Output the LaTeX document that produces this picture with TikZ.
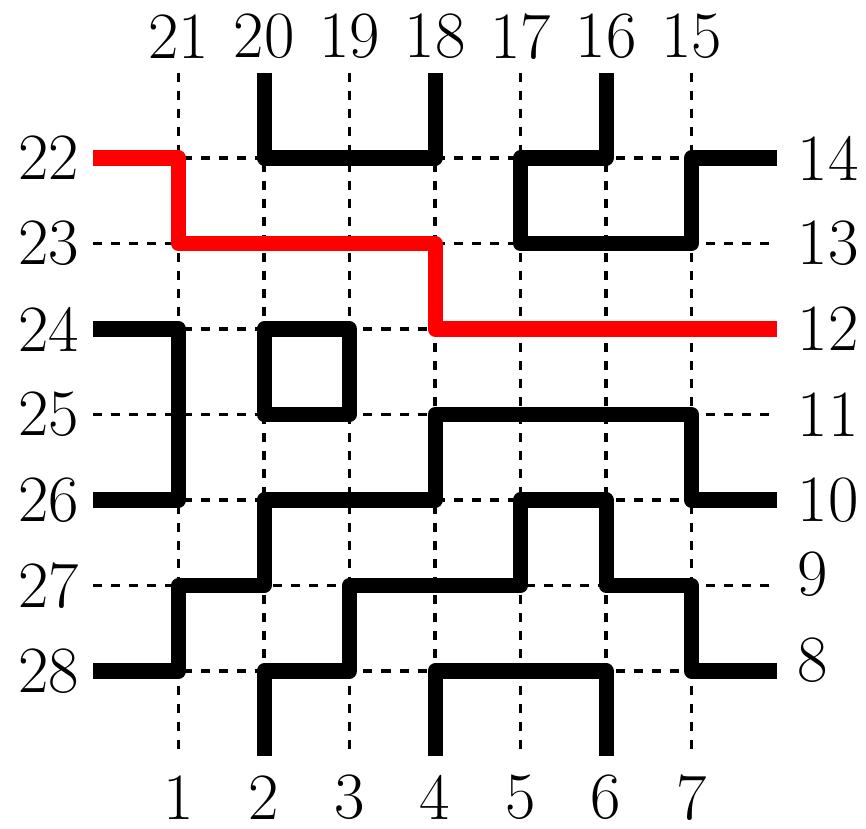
\documentclass[tikz,border=0pt]{standalone}
\usepackage{amsmath}
\usepackage{tikz}
\usepackage{xcolor}

\begin{document}
\begin{tikzpicture}[x=1cm,y=-1cm,line join=round,
  grid/.style={dashed,line width=1.2pt},
  wire/.style={line width=5pt},
  lbl/.style={font=\fontsize{22}{26}\selectfont,inner sep=1pt}]
  \useasboundingbox (-1.088,-0.848) rectangle (9.041,8.848);
  % dashed grid
  \foreach \i in {1,...,7} {
    \draw[grid] (\i,0)--(\i,8);
    \draw[grid] (0,\i)--(8,\i);
  }
  % top and bottom labels
  \foreach \i/\t in {1/21,2/20,3/19,4/18,5/17,6/16,7/15} {
    \node[lbl] (top\t) at (\i,-0.42) {\t};
    \node[lbl] (bot\i) at (\i,8.48) {\i};
  }
  % left and right labels
  \foreach \i/\t in {1/22,2/23,3/24,4/25,5/26,6/27,7/28}
    \node[lbl,anchor=east] (left\t) at (-0.12,\i) {\t};
  \foreach \i/\t in {1/14,2/13,3/12,4/11,5/10}
    \node[lbl,anchor=west] (right\t) at (8.2,\i) {\t};
  \node[lbl,anchor=west] (right9) at (8.2,5.87) {9};
  \node[lbl,anchor=west] (right8) at (8.2,6.87) {8};
  % wires
  \draw[wire] (2,0)--(2,1)--(4,1)--(4,0);
  \draw[wire] (6,0)--(6,1)--(5,1)--(5,2)--(7,2)--(7,1)--(8,1);
  \draw[wire,red] (0,1)--(1,1)--(1,2)--(4,2)--(4,3)--(8,3);
  \draw[wire] (0,3)--(1,3)--(1,5)--(0,5);
  \draw[wire] (2,3)--(3,3)--(3,4)--(2,4)--cycle;
  \draw[wire] (8,5)--(7,5)--(7,4)--(4,4)--(4,5)--(2,5)--(2,6)--(1,6)--(1,7)--(0,7);
  \draw[wire] (2,8)--(2,7)--(3,7)--(3,6)--(5,6)--(5,5)--(6,5)--(6,6)--(7,6)--(7,7)--(8,7);
  \draw[wire] (4,8)--(4,7)--(6,7)--(6,8);
\end{tikzpicture}
\end{document}
